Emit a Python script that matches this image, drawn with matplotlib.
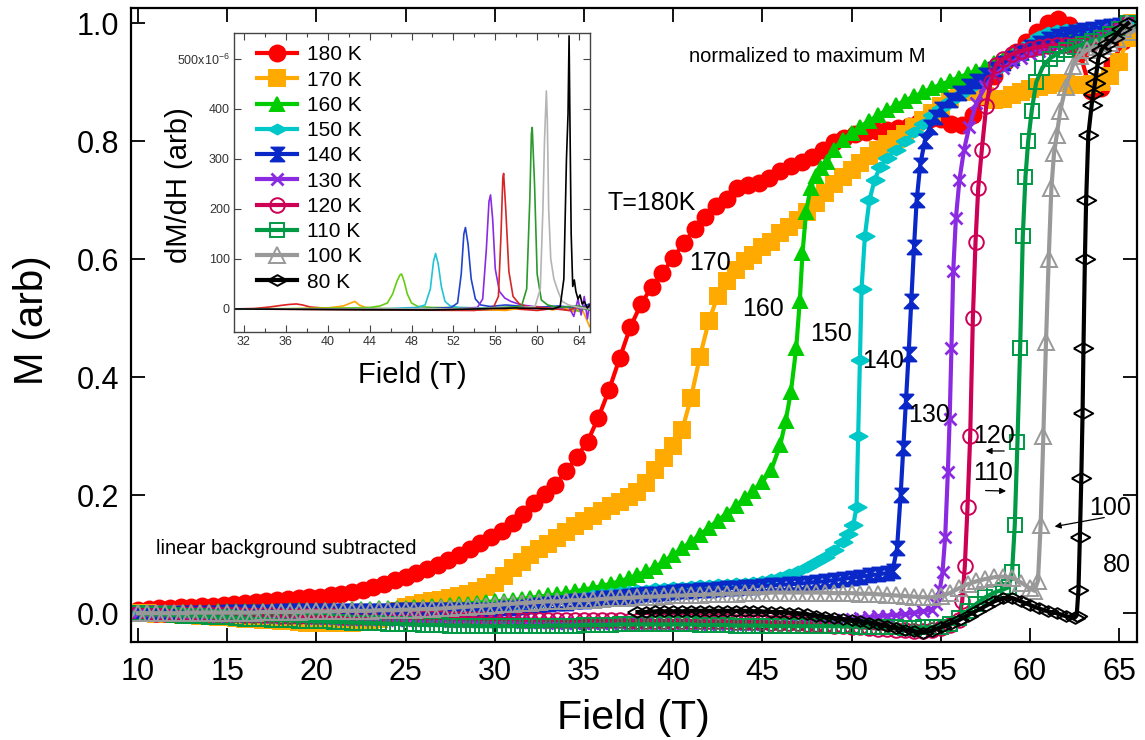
import matplotlib
matplotlib.use('Agg')
import matplotlib.pyplot as plt

plt.rcParams['font.family'] = ['Liberation Sans', 'DejaVu Sans']
plt.rcParams['mathtext.fontset'] = 'custom'
plt.rcParams['mathtext.rm'] = 'Liberation Sans'

# ---- M(H), linear background subtracted, normalized to max M ----
red_field = [10.0, 10.6, 11.2, 11.8, 12.4, 13.0, 13.6, 14.2, 14.8, 15.4, 16.0, 16.6, 17.2, 17.8, 18.4,
             19.0, 19.6, 20.2, 20.8, 21.4, 22.0, 22.6, 23.2, 23.8, 24.4, 25.0, 25.6, 26.2, 26.8, 27.4,
             28.0, 28.6, 29.2, 29.8, 30.4, 31.0, 31.6, 32.2, 32.8, 33.4, 34.0, 34.6, 35.2, 35.8, 36.4,
             37.0, 37.6, 38.2, 38.8, 39.4, 40.0, 40.6, 41.2, 41.8, 42.4, 43.0, 43.6, 44.2, 44.8, 45.4,
             46.0, 46.6, 47.2, 47.8, 48.4, 49.0, 49.6, 50.2, 50.8, 51.4, 52.0, 52.6, 53.2, 53.8, 54.4,
             55.0, 55.6, 56.2, 56.8, 57.4, 58.0, 58.6, 59.2, 59.8, 60.4, 61.0, 61.6, 62.2, 62.8, 63.4,
             64.0, 64.6, 65.2]
red_m = [0.006, 0.007, 0.008, 0.009, 0.010, 0.011, 0.012, 0.013, 0.014, 0.016,
         0.018, 0.019, 0.021, 0.022, 0.024, 0.025, 0.027, 0.028, 0.031, 0.033,
         0.036, 0.040, 0.045, 0.050, 0.056, 0.062, 0.068, 0.075, 0.082, 0.090,
         0.098, 0.108, 0.119, 0.130, 0.140, 0.153, 0.168, 0.186, 0.202, 0.218,
         0.241, 0.265, 0.291, 0.331, 0.378, 0.432, 0.485, 0.524, 0.553, 0.577,
         0.602, 0.628, 0.651, 0.672, 0.690, 0.703, 0.720, 0.726, 0.729, 0.737,
         0.750, 0.758, 0.765, 0.774, 0.785, 0.798, 0.806, 0.812, 0.816, 0.818,
         0.820, 0.822, 0.826, 0.832, 0.838, 0.838, 0.830, 0.828, 0.845, 0.875,
         0.910, 0.935, 0.952, 0.968, 0.985, 1.000, 1.008, 0.998, 0.950, 0.885,
         0.890, 0.930, 0.970]

orange_field = [10.0, 10.5, 11.0, 11.5, 12.0, 12.5, 13.0, 13.5, 14.0, 14.5, 15.0, 15.5, 16.0, 16.5, 17.0,
                17.5, 18.0, 18.5, 19.0, 19.5, 20.0, 20.5, 21.0, 21.5, 22.0, 22.5, 23.0, 23.5, 24.0, 24.5,
                25.0, 25.5, 26.0, 26.5, 27.0, 27.5, 28.0, 28.5, 29.0, 29.5, 30.0, 30.5, 31.0, 31.5, 32.0,
                32.5, 33.0, 33.5, 34.0, 34.5, 35.0, 35.5, 36.0, 36.5, 37.0, 37.5, 38.0, 38.5, 39.0, 39.5,
                40.0, 40.5, 41.0, 41.5, 42.0, 42.5, 43.0, 43.5, 44.0, 44.5, 45.0, 45.5, 46.0, 46.5, 47.0,
                47.5, 48.0, 48.5, 49.0, 49.5, 50.0, 50.5, 51.0, 51.5, 52.0, 52.5, 53.0, 53.5, 54.0, 54.5,
                55.0, 55.5, 56.0, 56.5, 57.0, 57.5, 58.0, 58.5, 59.0, 59.5, 60.0, 60.5, 61.0, 61.5, 62.0,
                62.5, 63.0, 63.5, 64.0, 64.5, 65.0, 65.5, 65.7]
orange_m = [0.000, 0.000, -0.001, -0.001, -0.002, -0.003, -0.003, -0.004, -0.005, -0.006,
            -0.007, -0.008, -0.009, -0.010, -0.011, -0.012, -0.013, -0.014, -0.015, -0.016,
            -0.016, -0.017, -0.017, -0.017, -0.016, -0.015, -0.013, -0.009, -0.003, 0.004,
            0.010, 0.014, 0.017, 0.020, 0.023, 0.026, 0.029, 0.033, 0.038, 0.044,
            0.052, 0.063, 0.076, 0.087, 0.098, 0.108, 0.118, 0.128, 0.138, 0.147,
            0.156, 0.165, 0.173, 0.181, 0.189, 0.197, 0.206, 0.220, 0.242, 0.263,
            0.283, 0.310, 0.365, 0.435, 0.495, 0.538, 0.564, 0.582, 0.597, 0.608,
            0.620, 0.630, 0.644, 0.655, 0.667, 0.680, 0.696, 0.712, 0.727, 0.740,
            0.752, 0.764, 0.775, 0.785, 0.795, 0.804, 0.813, 0.824, 0.836, 0.848,
            0.860, 0.872, 0.883, 0.888, 0.884, 0.876, 0.870, 0.872, 0.878, 0.884,
            0.888, 0.892, 0.896, 0.898, 0.898, 0.896, 0.895, 0.897, 0.900, 0.910,
            0.935, 0.975, 1.000]

green_field = [10.0, 10.5, 11.0, 11.5, 12.0, 12.5, 13.0, 13.5, 14.0, 14.5, 15.0, 15.5, 16.0, 16.5, 17.0,
               17.5, 18.0, 18.5, 19.0, 19.5, 20.0, 20.5, 21.0, 21.5, 22.0, 22.5, 23.0, 23.5, 24.0, 24.5,
               25.0, 25.5, 26.0, 26.5, 27.0, 27.5, 28.0, 28.5, 29.0, 29.5, 30.0, 30.5, 31.0, 31.5, 32.0,
               32.5, 33.0, 33.5, 34.0, 34.5, 35.0, 35.5, 36.0, 36.5, 37.0, 37.5, 38.0, 38.5, 39.0, 39.5,
               40.0, 40.5, 41.0, 41.5, 42.0, 42.5, 43.0, 43.5, 44.0, 44.5, 45.0, 45.5, 46.0,
               46.3, 46.6, 46.9, 47.1, 47.25, 47.45, 47.7, 48.0, 48.3, 48.6, 49.0,
               49.5, 50.0, 50.5, 51.0, 51.5, 52.0, 52.5, 53.0, 53.5, 54.0, 54.5, 55.0, 55.5, 56.0, 56.5,
               57.0, 57.5, 58.0, 58.5, 59.0, 59.5, 60.0, 60.5, 61.0, 61.5, 62.0, 62.5, 63.0, 63.5, 64.0,
               64.5, 65.0, 65.5]
green_m = [0.000, 0.000, 0.001, 0.001, 0.001, 0.002, 0.002, 0.002, 0.002, 0.003,
           0.003, 0.003, 0.003, 0.004, 0.004, 0.004, 0.004, 0.005, 0.005, 0.005,
           0.005, 0.006, 0.006, 0.006, 0.007, 0.007, 0.007, 0.008, 0.008, 0.009,
           0.009, 0.010, 0.011, 0.012, 0.013, 0.014, 0.015, 0.016, 0.018, 0.019,
           0.020, 0.021, 0.022, 0.024, 0.026, 0.028, 0.030, 0.032, 0.034, 0.037,
           0.040, 0.043, 0.046, 0.050, 0.054, 0.059, 0.065, 0.071, 0.078, 0.088,
           0.099, 0.110, 0.121, 0.133, 0.145, 0.157, 0.169, 0.181, 0.195, 0.208,
           0.223, 0.243, 0.285,
           0.325, 0.375, 0.450, 0.530, 0.610, 0.680, 0.720, 0.742, 0.755, 0.765, 0.786,
           0.802, 0.814, 0.825, 0.835, 0.844, 0.853, 0.861, 0.869, 0.876, 0.883,
           0.890, 0.896, 0.902, 0.908, 0.914, 0.920, 0.926, 0.932, 0.938, 0.944,
           0.950, 0.956, 0.961, 0.966, 0.972, 0.977, 0.981, 0.985, 0.989, 0.992,
           0.995, 0.998, 1.000]

cyan_field = [10.0, 10.5, 11.0, 11.5, 12.0, 12.5, 13.0, 13.5, 14.0, 14.5, 15.0, 15.5, 16.0, 16.5, 17.0,
              17.5, 18.0, 18.5, 19.0, 19.5, 20.0, 20.5, 21.0, 21.5, 22.0, 22.5, 23.0, 23.5, 24.0, 24.5,
              25.0, 25.5, 26.0, 26.5, 27.0, 27.5, 28.0, 28.5, 29.0, 29.5, 30.0, 30.5, 31.0, 31.5, 32.0,
              32.5, 33.0, 33.5, 34.0, 34.5, 35.0, 35.5, 36.0, 36.5, 37.0, 37.5, 38.0, 38.5, 39.0, 39.5,
              40.0, 40.5, 41.0, 41.5, 42.0, 42.5, 43.0, 43.5, 44.0, 44.5, 45.0, 45.5, 46.0, 46.5, 47.0,
              47.5, 48.0, 48.5, 49.0, 49.5,
              49.8, 50.1, 50.28, 50.37, 50.47, 50.56, 50.75, 51.0, 51.3, 51.6, 52.0,
              52.5, 53.0, 53.5, 54.0, 54.5, 55.0, 55.5, 56.0, 56.5, 57.0, 57.5, 58.0, 58.5, 59.0,
              59.5, 60.0, 60.5, 61.0, 61.5, 62.0, 62.5, 63.0, 63.5, 64.0, 64.5, 65.0, 65.5]
cyan_m = [0.000, 0.000, 0.000, 0.001, 0.001, 0.001, 0.001, 0.001, 0.002, 0.002,
          0.002, 0.002, 0.002, 0.003, 0.003, 0.003, 0.003, 0.003, 0.004, 0.004,
          0.004, 0.004, 0.004, 0.005, 0.005, 0.005, 0.005, 0.006, 0.006, 0.006,
          0.006, 0.007, 0.007, 0.007, 0.007, 0.008, 0.008, 0.008, 0.008, 0.008,
          0.008, 0.010, 0.012, 0.014, 0.016, 0.018, 0.020, 0.022, 0.024, 0.026,
          0.028, 0.030, 0.032, 0.034, 0.036, 0.038, 0.039, 0.040, 0.042, 0.043,
          0.044, 0.045, 0.046, 0.047, 0.048, 0.049, 0.050, 0.051, 0.052, 0.053,
          0.055, 0.058, 0.062, 0.066, 0.072, 0.079, 0.087, 0.096, 0.107, 0.121,
          0.135, 0.150, 0.180, 0.300, 0.430, 0.550, 0.640, 0.700, 0.735, 0.757, 0.772,
          0.785, 0.800, 0.815, 0.830, 0.845, 0.857, 0.868, 0.878, 0.888, 0.898,
          0.909, 0.920, 0.932, 0.944, 0.956, 0.967, 0.978, 0.985, 0.988, 0.990,
          0.990, 0.990, 0.992, 0.994, 0.996, 0.998, 1.000]

blue_field = [10.0, 10.5, 11.0, 11.5, 12.0, 12.5, 13.0, 13.5, 14.0, 14.5, 15.0, 15.5, 16.0, 16.5, 17.0,
              17.5, 18.0, 18.5, 19.0, 19.5, 20.0, 20.5, 21.0, 21.5, 22.0, 22.5, 23.0, 23.5, 24.0, 24.5,
              25.0, 25.5, 26.0, 26.5, 27.0, 27.5, 28.0, 28.5, 29.0, 29.5, 30.0, 30.5, 31.0, 31.5, 32.0,
              32.5, 33.0, 33.5, 34.0, 34.5, 35.0, 35.5, 36.0, 36.5, 37.0, 37.5, 38.0, 38.5, 39.0, 39.5,
              40.0, 40.5, 41.0, 41.5, 42.0, 42.5, 43.0, 43.5, 44.0, 44.5, 45.0, 45.5, 46.0, 46.5, 47.0,
              47.5, 48.0, 48.5, 49.0, 49.5, 50.0, 50.5, 51.0, 51.5, 52.0,
              52.3, 52.55, 52.75, 52.9, 53.05, 53.2, 53.35, 53.5, 53.65, 53.85, 54.1, 54.4, 54.7, 55.0,
              55.5, 56.0, 56.5, 57.0, 57.5, 58.0, 58.5, 59.0, 59.5, 60.0, 60.5, 61.0, 61.5, 62.0, 62.5,
              63.0, 63.5, 64.0, 64.5, 65.0, 65.5]
blue_m = [0.000, 0.000, 0.000, 0.000, 0.001, 0.001, 0.001, 0.001, 0.001, 0.001,
          0.002, 0.002, 0.002, 0.002, 0.002, 0.002, 0.003, 0.003, 0.003, 0.003,
          0.003, 0.003, 0.003, 0.004, 0.004, 0.004, 0.004, 0.004, 0.004, 0.005,
          0.005, 0.005, 0.005, 0.005, 0.005, 0.005, 0.006, 0.006, 0.006, 0.006,
          0.006, 0.008, 0.009, 0.011, 0.012, 0.014, 0.015, 0.017, 0.018, 0.020,
          0.021, 0.023, 0.025, 0.026, 0.028, 0.029, 0.031, 0.032, 0.033, 0.035,
          0.036, 0.037, 0.038, 0.039, 0.040, 0.041, 0.042, 0.043, 0.044, 0.045,
          0.046, 0.047, 0.048, 0.049, 0.050, 0.051, 0.053, 0.054, 0.056, 0.058,
          0.060, 0.062, 0.064, 0.066, 0.068,
          0.072, 0.110, 0.200, 0.280, 0.360, 0.440, 0.530, 0.620, 0.700, 0.760, 0.800, 0.825,
          0.842, 0.855,
          0.870, 0.882, 0.893, 0.903, 0.912, 0.922, 0.932, 0.942, 0.951, 0.960,
          0.967, 0.973, 0.978, 0.982, 0.986, 0.989, 0.991, 0.993, 0.995, 0.997, 1.000]

purple_field = [10.0, 10.5, 11.0, 11.5, 12.0, 12.5, 13.0, 13.5, 14.0, 14.5, 15.0, 15.5, 16.0, 16.5, 17.0,
                17.5, 18.0, 18.5, 19.0, 19.5, 20.0, 20.5, 21.0, 21.5, 22.0, 22.5, 23.0, 23.5, 24.0, 24.5,
                25.0, 25.5, 26.0, 26.5, 27.0, 27.5, 28.0, 28.5, 29.0, 29.5, 30.0, 30.5, 31.0, 31.5, 32.0,
                32.5, 33.0, 33.5, 34.0, 34.5, 35.0, 35.5, 36.0, 36.5, 37.0, 37.5, 38.0, 38.5, 39.0, 39.5,
                40.0, 40.5, 41.0, 41.5, 42.0, 42.5, 43.0, 43.5, 44.0, 44.5, 45.0, 45.5, 46.0, 46.5, 47.0,
                47.5, 48.0, 48.5, 49.0, 49.5, 50.0, 50.5, 51.0, 51.5, 52.0, 52.5, 53.0, 53.5, 54.0, 54.5,
                54.75, 54.95, 55.1, 55.25, 55.4, 55.5, 55.6, 55.7, 55.85, 56.05, 56.3, 56.6, 57.0, 57.5,
                58.0, 58.5, 59.0, 59.5, 60.0, 60.5, 61.0, 61.5, 62.0, 62.5, 63.0, 63.5, 64.0, 64.5,
                65.0, 65.5]
purple_m = [0.000, -0.001, -0.001, -0.001, -0.002, -0.002, -0.003, -0.003, -0.003, -0.004,
            -0.004, -0.004, -0.005, -0.005, -0.005, -0.006, -0.006, -0.006, -0.007, -0.007,
            -0.008, -0.008, -0.008, -0.009, -0.009, -0.009, -0.010, -0.010, -0.010, -0.011,
            -0.011, -0.011, -0.012, -0.012, -0.012, -0.013, -0.013, -0.013, -0.013, -0.014,
            -0.014, -0.014, -0.014, -0.015, -0.015, -0.015, -0.015, -0.016, -0.016, -0.016,
            -0.016, -0.016, -0.016, -0.016, -0.016, -0.016, -0.016, -0.017, -0.017, -0.017,
            -0.017, -0.017, -0.017, -0.018, -0.018, -0.018, -0.018, -0.018, -0.018, -0.018,
            -0.018, -0.017, -0.017, -0.016, -0.016, -0.015, -0.014, -0.013, -0.012, -0.011,
            -0.010, -0.008, -0.007, -0.005, -0.004, -0.003, -0.002, 0.001, 0.003, 0.006,
            0.015, 0.040, 0.070, 0.130, 0.240, 0.330, 0.450, 0.580, 0.670, 0.735, 0.785,
            0.825, 0.865, 0.893,
            0.912, 0.924, 0.934, 0.942, 0.948, 0.953, 0.957, 0.960, 0.962, 0.964,
            0.967, 0.972, 0.980, 0.988, 0.995, 1.000]

crimson_field = [10.0, 10.5, 11.0, 11.5, 12.0, 12.5, 13.0, 13.5, 14.0, 14.5, 15.0, 15.5, 16.0, 16.5, 17.0,
                 17.5, 18.0, 18.5, 19.0, 19.5, 20.0, 20.5, 21.0, 21.5, 22.0, 22.5, 23.0, 23.5, 24.0, 24.5,
                 25.0, 25.5, 26.0, 26.5, 27.0, 27.5, 28.0, 28.5, 29.0, 29.5, 30.0, 30.5, 31.0, 31.5, 32.0,
                 32.5, 33.0, 33.5, 34.0, 34.5, 35.0, 35.5, 36.0, 36.5, 37.0, 37.5, 38.0, 38.5, 39.0, 39.5,
                 40.0, 40.5, 41.0, 41.5, 42.0, 42.5, 43.0, 43.5, 44.0, 44.5, 45.0, 45.5, 46.0, 46.5, 47.0,
                 47.5, 48.0, 48.5, 49.0, 49.5, 50.0, 50.5, 51.0, 51.5, 52.0, 52.5, 53.0, 53.5, 54.0, 54.5,
                 55.0, 55.5, 56.0,
                 56.2, 56.35, 56.5, 56.65, 56.8, 56.95, 57.1, 57.3, 57.55, 57.8, 58.1, 58.5,
                 59.0, 59.5, 60.0, 60.5, 61.0, 61.5, 62.0, 62.5, 63.0, 63.5, 64.0, 64.5, 65.0, 65.5]
crimson_m = [0.000, 0.000, -0.001, -0.001, -0.001, -0.001, -0.001, -0.002, -0.002, -0.002,
             -0.002, -0.002, -0.003, -0.003, -0.003, -0.003, -0.004, -0.004, -0.004, -0.005,
             -0.005, -0.005, -0.005, -0.006, -0.006, -0.006, -0.006, -0.007, -0.007, -0.007,
             -0.007, -0.008, -0.008, -0.008, -0.008, -0.009, -0.009, -0.009, -0.009, -0.010,
             -0.010, -0.010, -0.010, -0.011, -0.011, -0.011, -0.011, -0.011, -0.012, -0.012,
             -0.012, -0.012, -0.012, -0.012, -0.012, -0.013, -0.013, -0.013, -0.013, -0.013,
             -0.013, -0.013, -0.013, -0.014, -0.014, -0.014, -0.014, -0.015, -0.015, -0.015,
             -0.015, -0.016, -0.016, -0.017, -0.017, -0.018, -0.019, -0.020, -0.021, -0.022,
             -0.023, -0.024, -0.025, -0.026, -0.027, -0.028, -0.029, -0.030, -0.030, -0.028,
             -0.025, -0.020, -0.012,
             0.020, 0.080, 0.180, 0.300, 0.500, 0.630, 0.720, 0.785, 0.860, 0.900, 0.930, 0.940,
             0.948, 0.953, 0.957, 0.960, 0.962, 0.963, 0.963, 0.963, 0.964, 0.966, 0.972, 0.980,
             0.990, 1.000]

dkgreen_field = [10.0, 10.5, 11.0, 11.5, 12.0, 12.5, 13.0, 13.5, 14.0, 14.5, 15.0, 15.5, 16.0, 16.5, 17.0,
                 17.5, 18.0, 18.5, 19.0, 19.5, 20.0, 20.5, 21.0, 21.5, 22.0, 22.5, 23.0, 23.5, 24.0, 24.5,
                 25.0, 25.5, 26.0, 26.5, 27.0, 27.5, 28.0, 28.5, 29.0, 29.5, 30.0, 30.5, 31.0, 31.5, 32.0,
                 32.5, 33.0, 33.5, 34.0, 34.5, 35.0, 35.5, 36.0, 36.5, 37.0, 37.5, 38.0, 38.5, 39.0, 39.5,
                 40.0, 40.5, 41.0, 41.5, 42.0, 42.5, 43.0, 43.5, 44.0, 44.5, 45.0, 45.5, 46.0, 46.5, 47.0,
                 47.5, 48.0, 48.5, 49.0, 49.5, 50.0, 50.5, 51.0, 51.5, 52.0, 52.5, 53.0, 53.5, 54.0, 54.5,
                 55.0, 55.5, 56.0, 56.5, 57.0, 57.5, 58.0, 58.5,
                 58.8, 59.0, 59.15, 59.3, 59.45, 59.6, 59.75, 59.9, 60.1, 60.35, 60.7, 61.1, 61.5,
                 62.0, 62.5, 63.0, 63.5, 64.0, 64.5, 65.0, 65.5]
dkgreen_m = [0.000, -0.001, -0.001, -0.002, -0.003, -0.004, -0.004, -0.005, -0.006, -0.007,
             -0.007, -0.008, -0.009, -0.010, -0.010, -0.011, -0.012, -0.012, -0.013, -0.013,
             -0.014, -0.014, -0.015, -0.015, -0.016, -0.016, -0.017, -0.017, -0.018, -0.018,
             -0.019, -0.019, -0.020, -0.020, -0.020, -0.021, -0.021, -0.021, -0.022, -0.022,
             -0.022, -0.022, -0.022, -0.022, -0.022, -0.022, -0.021, -0.021, -0.021, -0.021,
             -0.020, -0.020, -0.020, -0.020, -0.019, -0.019, -0.019, -0.019, -0.019, -0.019,
             -0.019, -0.019, -0.019, -0.020, -0.020, -0.020, -0.020, -0.021, -0.021, -0.021,
             -0.021, -0.022, -0.022, -0.022, -0.022, -0.022, -0.022, -0.022, -0.022, -0.022,
             -0.022, -0.023, -0.023, -0.023, -0.024, -0.024, -0.025, -0.025, -0.024, -0.024,
             -0.023, -0.018, -0.008, 0.004, 0.016, 0.027, 0.035, 0.040,
             0.044, 0.070, 0.150, 0.290, 0.450, 0.640, 0.740, 0.800, 0.852, 0.900, 0.925, 0.940,
             0.948,
             0.955, 0.960, 0.965, 0.970, 0.975, 0.982, 0.990, 1.000]

grey_field = [10.0, 10.5, 11.0, 11.5, 12.0, 12.5, 13.0, 13.5, 14.0, 14.5, 15.0, 15.5, 16.0, 16.5, 17.0,
              17.5, 18.0, 18.5, 19.0, 19.5, 20.0, 20.5, 21.0, 21.5, 22.0, 22.5, 23.0, 23.5, 24.0, 24.5,
              25.0, 25.5, 26.0, 26.5, 27.0, 27.5, 28.0, 28.5, 29.0, 29.5, 30.0, 30.5, 31.0, 31.5, 32.0,
              32.5, 33.0, 33.5, 34.0, 34.5, 35.0, 35.5, 36.0, 36.5, 37.0, 37.5, 38.0, 38.5, 39.0, 39.5,
              40.0, 40.5, 41.0, 41.5, 42.0, 42.5, 43.0, 43.5, 44.0, 44.5, 45.0, 45.5, 46.0, 46.5, 47.0,
              47.5, 48.0, 48.5, 49.0, 49.5, 50.0, 50.5, 51.0, 51.5, 52.0, 52.5, 53.0, 53.5, 54.0, 54.5,
              55.0, 55.5, 56.0, 56.5, 57.0, 57.5, 58.0, 58.5, 59.0, 59.5, 60.0,
              60.25, 60.45, 60.6, 60.75, 60.9, 61.05, 61.2, 61.35, 61.5, 61.7, 62.0, 62.4, 62.8,
              63.2, 63.7, 64.1, 64.5, 64.9, 65.2, 65.45, 65.7]
grey_m = [0.000, 0.000, 0.000, 0.000, 0.000, 0.000, 0.001, 0.001, 0.001, 0.001,
          0.001, 0.001, 0.001, 0.001, 0.002, 0.002, 0.002, 0.002, 0.002, 0.003,
          0.003, 0.003, 0.003, 0.004, 0.004, 0.004, 0.004, 0.005, 0.005, 0.005,
          0.006, 0.006, 0.007, 0.007, 0.008, 0.009, 0.010, 0.011, 0.012, 0.013,
          0.014, 0.015, 0.016, 0.017, 0.018, 0.019, 0.020, 0.020, 0.021, 0.022,
          0.022, 0.023, 0.024, 0.025, 0.026, 0.026, 0.027, 0.028, 0.028, 0.029,
          0.030, 0.030, 0.031, 0.031, 0.032, 0.032, 0.033, 0.033, 0.034, 0.034,
          0.034, 0.035, 0.035, 0.035, 0.035, 0.035, 0.035, 0.035, 0.034, 0.034,
          0.034, 0.033, 0.033, 0.032, 0.031, 0.030, 0.029, 0.028, 0.027, 0.027,
          0.029, 0.034, 0.042, 0.049, 0.054, 0.058, 0.061, 0.062, 0.060, 0.052,
          0.042,
          0.038, 0.055, 0.150, 0.300, 0.460, 0.600, 0.720, 0.780, 0.810, 0.852, 0.892, 0.928,
          0.945, 0.955, 0.960, 0.962, 0.966, 0.973, 0.990, 1.000, 0.985]

# 80 K trace, shown from 38 T upward
black_field = [38.0, 38.5, 39.0, 39.5,
               40.0, 40.5, 41.0, 41.5, 42.0, 42.5, 43.0, 43.5, 44.0, 44.5, 45.0, 45.5, 46.0, 46.5, 47.0,
               47.5, 48.0, 48.5, 49.0, 49.5, 50.0, 50.5, 51.0, 51.5, 52.0, 52.5, 53.0, 53.5, 54.0, 54.5,
               55.0, 55.5, 56.0, 56.5, 57.0, 57.5, 58.0, 58.5, 59.0, 59.5, 60.0, 60.5, 61.0, 61.5, 62.0,
               62.5, 62.62, 62.72, 62.8, 62.88, 62.95, 63.0, 63.08, 63.15, 63.27, 63.46, 63.55, 63.64,
               63.74, 63.83, 64.0, 64.3, 64.7, 65.1, 65.5]
black_m = [0.002, 0.002, 0.003, 0.003,
           0.003, 0.003, 0.004, 0.004, 0.004, 0.004, 0.004, 0.004, 0.004, 0.003,
           0.003, 0.002, 0.002, 0.001, 0.000, -0.002, -0.004, -0.006, -0.008, -0.010,
           -0.012, -0.014, -0.016, -0.019, -0.022, -0.025, -0.028, -0.031, -0.033, -0.030,
           -0.024, -0.018, -0.012, -0.004, 0.004, 0.012, 0.020, 0.026, 0.026, 0.020,
           0.014, 0.008, 0.003, 0.000, -0.005,
           -0.008, -0.004, 0.040, 0.130, 0.230, 0.340, 0.450, 0.600, 0.700, 0.810, 0.862, 0.881,
           0.898, 0.919, 0.940, 0.955, 0.965, 0.975, 0.990, 1.000]

temp_labels = ['180 K', '170 K', '160 K', '150 K', '140 K', '130 K', '120 K', '110 K', '100 K', '80 K']

# ---- dM/dH (units of 1e-6) ----
d180_field = [31, 33, 34.5, 35.5, 36.3, 37.0, 37.6, 38.3, 39.5, 41, 45, 50, 55, 58, 60, 62, 63.5, 64.5, 65]
d180_val = [0, 1, 4, 7, 9, 10, 8, 4, 2, 1, 0, -1, -2, 0, -3, 2, -5, 3, -2]
d170_field = [31, 36, 40, 41.5, 42.2, 42.6, 43.0, 43.6, 45, 50, 55, 57, 58.5, 60, 61.5, 62.5, 63.5, 64.2, 64.6, 65]
d170_val = [0, 0, 2, 6, 12, 15, 8, 3, 1, 0, -1, -3, 2, 5, -2, 3, -5, 4, -15, -35]
d160_field = [31, 38, 42, 44, 45, 45.7, 46.2, 46.6, 46.9, 47.05, 47.3, 47.6, 48.0, 48.6, 50, 55, 60, 63, 64, 65]
d160_val = [0, 1, 2, 3, 6, 12, 30, 55, 68, 70, 55, 30, 12, 5, 3, 2, 4, 3, -5, 5]
d150_field = [31, 40, 46, 48.5, 49.3, 49.8, 50.1, 50.3, 50.55, 50.85, 51.2, 51.7, 52.5, 55, 60, 64, 65]
d150_val = [0, 0, 1, 3, 8, 40, 95, 111, 90, 45, 15, 6, 3, 2, 3, 5, 2]
d140_field = [31, 45, 50, 51.8, 52.4, 52.75, 53.0, 53.15, 53.4, 53.7, 54.1, 54.6, 55.5, 57, 60, 62, 64, 65]
d140_val = [0, 0, 1, 3, 12, 70, 150, 163, 130, 60, 20, 8, 5, 8, 3, 6, 2, 10]
d130_field = [31, 45, 52, 54.3, 54.8, 55.15, 55.4, 55.55, 55.75, 56.0, 56.4, 56.9, 57.5, 58.5, 60, 62,
              63, 63.5, 63.9, 64.2, 64.5, 64.8, 65]
d130_val = [0, -1, 0, 3, 20, 120, 215, 228, 180, 80, 35, 22, 15, 8, 4, 0, 5, -15, 20, -12, 25, -20, 10]
d120_field = [31, 45, 54, 55.8, 56.3, 56.55, 56.72, 56.8, 57.0, 57.3, 57.7, 58.3, 59, 61, 63, 64, 65]
d120_val = [0, -2, -3, 2, 25, 150, 262, 271, 200, 75, 25, 10, 5, 2, -3, 5, 0]
d110_field = [31, 45, 55, 58.5, 59.0, 59.3, 59.45, 59.53, 59.75, 60.0, 60.4, 61, 62, 64, 65]
d110_val = [0, -1, 1, 5, 40, 220, 350, 363, 250, 70, 18, 8, 3, 6, -2]
d100_field = [31, 50, 58, 59.8, 60.3, 60.55, 60.7, 60.88, 60.97, 61.1, 61.3, 61.6, 62.0, 62.4, 63, 64, 65]
d100_val = [0, 0, 2, 5, 40, 200, 335, 436, 380, 200, 100, 60, 35, 15, 8, 3, 0]
d80_field = [31, 50, 58, 61.5, 62.2, 62.55, 62.8, 62.95, 63.05, 63.12, 63.25, 63.4, 63.55, 63.7, 63.9,
             64.1, 64.3, 64.5, 64.8, 65]
d80_val = [0, -2, 2, 0, 5, 60, 300, 390, 546, 400, 150, 45, 58, 35, 20, 28, 10, 15, 2, 8]

hdiamond = [(-1, 0), (0, 0.55), (1, 0), (0, -0.55), (-1, 0)]
hourglass = [(-1, 1), (1, 1), (0, 0), (1, -1), (-1, -1), (0, 0)]

series = [
    (red_field, red_m, '#FF0000', 'o', 11.5, True),
    (orange_field, orange_m, '#FFAA00', 's', 11, True),
    (green_field, green_m, '#00CC00', '^', 10, True),
    (cyan_field, cyan_m, '#00C8C8', hdiamond, 13, True),
    (blue_field, blue_m, '#0A28C8', hourglass, 10, True),
    (purple_field, purple_m, '#8A2BE2', 'x', 9, True),
    (crimson_field, crimson_m, '#CC0055', 'o', 10.5, False),
    (dkgreen_field, dkgreen_m, '#009944', 's', 10.5, False),
    (grey_field, grey_m, '#999999', '^', 11, False),
    (black_field, black_m, '#000000', hdiamond, 14, False),
]

fig = plt.figure(figsize=(11.45, 7.4), dpi=100)
ax = fig.add_axes([0.1141, 0.1331, 0.8789, 0.8565])

handles = []
for f, m, c, mk, ms, filled in series:
    ln, = ax.plot(f, m, color=c, lw=3, marker=mk, ms=ms,
                  mfc=c if filled else 'none', mec=c,
                  mew=2 if mk == 'x' else 1.4)
    handles.append(ln)

ax.set_xlim(9.59, 66.0)
ax.set_ylim(-0.048, 1.0265)
ax.set_xticks([10, 15, 20, 25, 30, 35, 40, 45, 50, 55, 60, 65])
ax.set_yticks([0.0, 0.2, 0.4, 0.6, 0.8, 1.0])
ax.set_yticklabels(['0.0', '0.2', '0.4', '0.6', '0.8', '1.0'])
ax.tick_params(direction='in', length=10, width=1.3, top=True, right=True, labelsize=22)
ax.tick_params(axis='x', pad=11)
ax.tick_params(axis='y', pad=8)
for s in ax.spines.values():
    s.set_linewidth(1.6)
ax.set_xlabel('Field (T)', fontsize=29.5, labelpad=9)
ax.set_ylabel('M (arb)', fontsize=29)
ax.yaxis.set_label_coords(-0.079, 0.507)

ax.text(40.88, 0.934, 'normalized to maximum M', fontsize=14.5, va='baseline')
ax.text(11.0, 0.101, 'linear background subtracted', fontsize=14.5, va='baseline')
ax.text(36.33, 0.683, 'T=180K', fontsize=18, va='baseline')
curve_tags = [('170', 40.9, 0.581), ('160', 43.84, 0.504), ('150', 47.67, 0.461),
              ('140', 50.57, 0.416), ('130', 53.18, 0.324), ('120', 56.82, 0.288),
              ('110', 56.82, 0.225), ('100', 63.32, 0.166), ('80', 64.07, 0.070)]
for txt, x, y in curve_tags:
    ax.text(x, y, txt, fontsize=18, va='baseline')

arw = dict(arrowstyle='-|>', color='black', lw=0.9, mutation_scale=9)
ax.annotate('', xy=(57.36, 0.275), xytext=(58.71, 0.275), arrowprops=arw)
ax.annotate('', xy=(58.82, 0.207), xytext=(57.36, 0.208), arrowprops=arw)
ax.annotate('', xy=(61.23, 0.146), xytext=(64.32, 0.163), arrowprops=arw)

# ---- inset: dM/dH ----
axin = fig.add_axes([0.2044, 0.5514, 0.3109, 0.4041])
axin.set_zorder(5)
axin.set_facecolor('white')
inset_series = [
    (d180_field, d180_val, '#E02020'),
    (d170_field, d170_val, '#FFA500'),
    (d160_field, d160_val, '#66CC11'),
    (d150_field, d150_val, '#22C4D4'),
    (d140_field, d140_val, '#2244CC'),
    (d130_field, d130_val, '#8A2BE2'),
    (d120_field, d120_val, '#D42828'),
    (d110_field, d110_val, '#2A9A2A'),
    (d100_field, d100_val, '#B4B4B4'),
    (d80_field, d80_val, '#000000'),
]
for f, v, c in inset_series:
    axin.plot(f, [x * 1e-6 for x in v], color=c, lw=1.2)

axin.set_xlim(31.05, 65.05)
axin.set_ylim(-46e-6, 552e-6)
axin.set_xticks([32, 36, 40, 44, 48, 52, 56, 60, 64])
axin.set_xticks([34, 38, 42, 46, 50, 54, 58, 62], minor=True)
axin.set_yticks([0, 100e-6, 200e-6, 300e-6, 400e-6, 500e-6])
axin.set_yticklabels(['0', '100', '200', '300', '400', r'500x10$^{\mathregular{-6}}$'])
axin.tick_params(which='both', direction='in', top=True, right=True,
                 labelsize=9, labelcolor='#333333', pad=3, width=0.8, color='#444444')
axin.tick_params(which='major', length=5)
axin.tick_params(which='minor', length=3)
for s in axin.spines.values():
    s.set_linewidth(1.0)
    s.set_color('#444444')
axin.set_xlabel('Field (T)', fontsize=21, labelpad=9)
axin.set_ylabel('dM/dH (arb)', fontsize=21)
axin.yaxis.set_label_coords(-0.114, 0.49)

axin.legend(handles, temp_labels, loc='upper left', bbox_to_anchor=(0.0646, 0.958),
            frameon=False, fontsize=15, handlelength=1.9, handletextpad=0.5,
            labelspacing=0.3, borderpad=0, borderaxespad=0, numpoints=1)

fig.savefig('out.png', dpi=100)
